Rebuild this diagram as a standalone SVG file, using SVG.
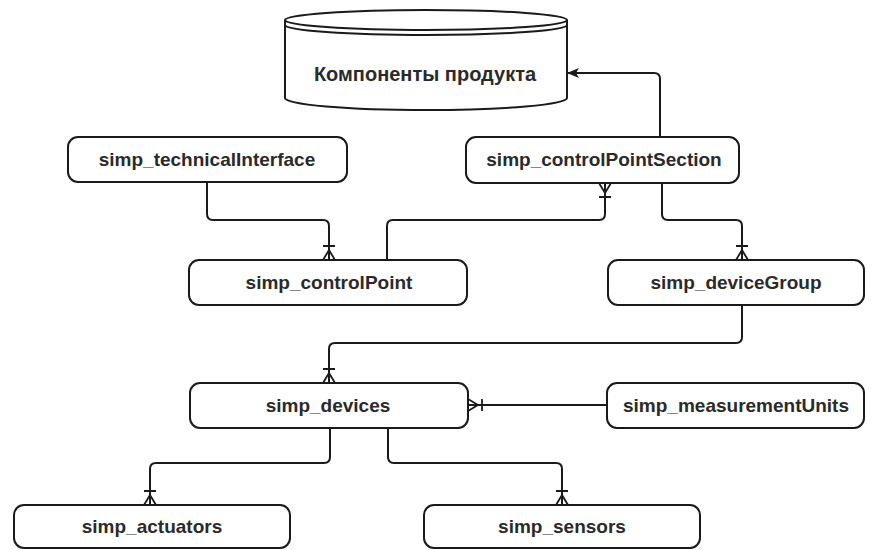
<svg xmlns="http://www.w3.org/2000/svg" width="874" height="550" viewBox="0 0 874 550">
<style>
.box{fill:#fff;stroke:#1a1a1a;stroke-width:2}
.lbl{font-family:"Liberation Sans",Arial,sans-serif;font-weight:bold;font-size:19px;fill:#2a2a2a;text-anchor:middle}
.edge{fill:none;stroke:#1a1a1a;stroke-width:2}
</style>
<defs>
<marker id="many" viewBox="0 0 24 20" markerWidth="24" markerHeight="20" refX="24" refY="10" orient="auto" markerUnits="userSpaceOnUse">
<path d="M14,10 L24,4 M14,10 L24,16 M14,10 L24,10 M10,4 V16" fill="none" stroke="#1a1a1a" stroke-width="1.8"/>
</marker>
<marker id="arrow" viewBox="0 0 12 10" markerWidth="12" markerHeight="10" refX="12" refY="5" orient="auto" markerUnits="userSpaceOnUse">
<path d="M0,0 L12,5 L0,10 L3,5 Z" fill="#1a1a1a"/>
</marker>
</defs>
<rect width="874" height="550" fill="#fff"/>
<g id="connectors">
<path class="edge" d="M660,136 V79 Q660,73 654,73 H567" marker-end="url(#arrow)"/>
<path class="edge" d="M207,182 V214 Q207,220 213,220 H323 Q329,220 329,226 V260" marker-end="url(#many)"/>
<path class="edge" d="M387,260 V226 Q387,220 393,220 H599 Q605,220 605,214 V183" marker-end="url(#many)"/>
<path class="edge" d="M662,183 V214 Q662,220 668,220 H736 Q742,220 742,226 V260" marker-end="url(#many)"/>
<path class="edge" d="M742,305 V337 Q742,343 736,343 H335 Q329,343 329,349 V383" marker-end="url(#many)"/>
<path class="edge" d="M607,405 H468" marker-end="url(#many)"/>
<path class="edge" d="M330,428 V457 Q330,463 324,463 H156 Q150,463 150,469 V505" marker-end="url(#many)"/>
<path class="edge" d="M388,428 V457 Q388,463 394,463 H556 Q562,463 562,469 V505" marker-end="url(#many)"/>
</g>
<g id="product_components">
<path class="box" d="M285,20 A141,10 0 0 1 567,20 V98 A141,12 0 0 1 285,98 Z"/>
<path class="edge" d="M285,20 A141,10 0 0 0 567,20 M285,25 A141,10 0 0 0 567,25"/>
<text class="lbl" x="425" y="81" style="font-size:20px">Компоненты продукта</text>
</g>
<g id="simp_technicalInterface">
<rect class="box" x="68" y="137" width="279" height="45" rx="10"/>
<text class="lbl" x="207" y="166">simp_technicalInterface</text>
</g>
<g id="simp_controlPointSection">
<rect class="box" x="466" y="137" width="273" height="46" rx="10"/>
<text class="lbl" x="604" y="166">simp_controlPointSection</text>
</g>
<g id="simp_controlPoint">
<rect class="box" x="189" y="260" width="278" height="45" rx="10"/>
<text class="lbl" x="329" y="289">simp_controlPoint</text>
</g>
<g id="simp_deviceGroup">
<rect class="box" x="608" y="260" width="256" height="45" rx="10"/>
<text class="lbl" x="736" y="289">simp_deviceGroup</text>
</g>
<g id="simp_devices">
<rect class="box" x="190" y="383" width="278" height="45" rx="10"/>
<text class="lbl" x="328" y="412">simp_devices</text>
</g>
<g id="simp_measurementUnits">
<rect class="box" x="607" y="383" width="257" height="45" rx="10"/>
<text class="lbl" x="736" y="412">simp_measurementUnits</text>
</g>
<g id="simp_actuators">
<rect class="box" x="14" y="505" width="276" height="43" rx="10"/>
<text class="lbl" x="152" y="533">simp_actuators</text>
</g>
<g id="simp_sensors">
<rect class="box" x="424" y="505" width="276" height="43" rx="10"/>
<text class="lbl" x="562" y="533">simp_sensors</text>
</g>
</svg>
